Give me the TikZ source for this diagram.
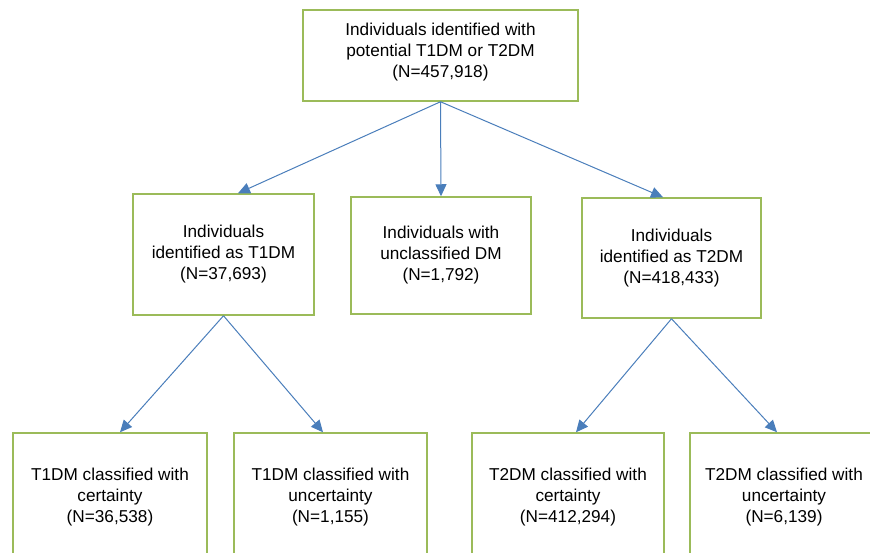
\documentclass[tikz,border=0pt]{standalone}
\usepackage{fontspec}
\setmainfont{Liberation Sans}
\usepackage{xcolor}
\usepackage{tikz}
\usetikzlibrary{arrows.meta}
\definecolor{boxgreen}{RGB}{155,187,89}
\definecolor{flowblue}{RGB}{74,126,187}

\begin{document}
\begin{tikzpicture}[x=1pt,y=-1pt,
  box/.style={draw=boxgreen,line width=1.5pt,align=center,inner sep=0pt,
    font=\fontsize{17.2}{21}\selectfont},
  flow/.style={draw=flowblue,line width=1pt,-{Triangle[length=12pt,width=11pt]}}]%
\useasboundingbox (0,0) rectangle (870,552);
\clip (0,0) rectangle (870,552);
% top level
\node[box,minimum width=275pt,minimum height=91pt,text depth=11pt] (all) at (440.5,55.5)
  {Individuals identified with\\potential T1DM or T2DM\\(N=457,918)};
% second level
\node[box,minimum width=181pt,minimum height=121pt] (t1) at (223.5,254.5)
  {Individuals\\identified as T1DM\\(N=37,693)};
\node[box,minimum width=180pt,minimum height=117pt] (unc) at (441,255.5)
  {Individuals with\\unclassified DM\\(N=1,792)};
\node[box,minimum width=179pt,minimum height=120pt] (t2) at (671.5,258)
  {Individuals\\identified as T2DM\\(N=418,433)};
% third level
\node[box,minimum width=194pt,minimum height=129pt] (t1c) at (110,497.5)
  {T1DM classified with\\certainty\\(N=36,538)};
\node[box,minimum width=193pt,minimum height=129pt] (t1u) at (330.5,497.5)
  {T1DM classified with\\uncertainty\\(N=1,155)};
\node[box,minimum width=192pt,minimum height=129pt] (t2c) at (568,497.5)
  {T2DM classified with\\certainty\\(N=412,294)};
\node[box,minimum width=188pt,minimum height=129pt] (t2u) at (784,497.5)
  {T2DM classified with\\uncertainty\\(N=6,139)};
% arrows
\draw[flow] (all.south) -- ([xshift=14.5pt]t1.north);
\draw[flow] (all.south) -- (unc.north);
\draw[flow] (all.south) -- ([xshift=-8.5pt]t2.north);
\draw[flow] (t1.south) -- ([xshift=10pt]t1c.north);
\draw[flow] (t1.south) -- ([xshift=-7.5pt]t1u.north);
\draw[flow] (t2.south) -- ([xshift=8pt]t2c.north);
\draw[flow] (t2.south) -- ([xshift=-7pt]t2u.north);
\end{tikzpicture}
\end{document}
